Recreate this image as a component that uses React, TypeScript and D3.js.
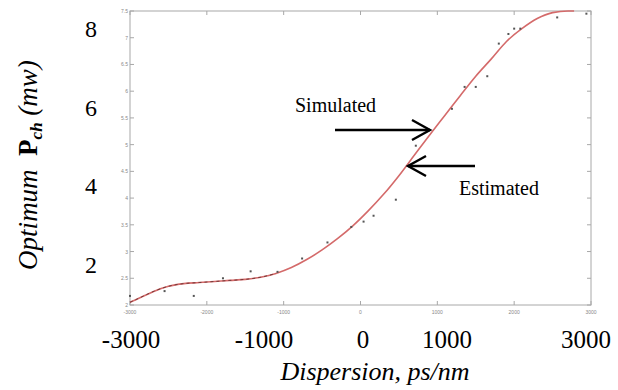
import * as d3 from "d3";
import React, { useRef, useEffect } from "react";

// smooth fitted curve (dispersion ps/nm, optimum power mW)
const curveX = [-3000, -2850, -2700, -2500, -2300, -2100, -1900, -1700, -1500, -1300, -1100, -900, -700, -500, -300, -100, 100, 300, 500, 700, 900, 1100, 1300, 1500, 1700, 1900, 2100, 2300, 2500, 2700, 2780];
const curveY = [2.05, 2.15, 2.25, 2.35, 2.4, 2.42, 2.44, 2.46, 2.48, 2.52, 2.59, 2.7, 2.85, 3.03, 3.24, 3.48, 3.76, 4.07, 4.42, 4.8, 5.18, 5.55, 5.92, 6.28, 6.6, 6.93, 7.17, 7.36, 7.47, 7.5, 7.5];

// scattered points
const pointX = [-3000, -2550, -2170, -1790, -1430, -1080, -760, -430, -120, 40, 170, 460, 720, 1190, 1355, 1500, 1650, 1800, 1925, 2000, 2080, 2560, 2940];
const pointY = [2.17, 2.26, 2.17, 2.5, 2.63, 2.62, 2.87, 3.17, 3.46, 3.56, 3.67, 3.97, 4.98, 5.67, 6.08, 6.08, 6.28, 6.89, 7.07, 7.17, 7.17, 7.38, 7.45];

// small ticks of the inner (pasted) plot
const innerXTicks = [-3000, -2000, -1000, 0, 1000, 2000, 3000];
const innerYTicks = [2, 2.5, 3, 3.5, 4, 4.5, 5, 5.5, 6, 6.5, 7, 7.5];

// large overlay tick labels
const outerXTicks = [-3000, -1000, 0, 1000, 3000];
const outerYTicks = [2, 4, 6, 8];

const W = 618;
const H = 390;

function Chart() {
  const ref = useRef(null);

  useEffect(() => {
    const svg = d3.select(ref.current);
    svg.selectAll("*").remove();

    const x = d3.scaleLinear().domain([-3000, 3000]).range([130, 591]);
    const y = d3.scaleLinear().domain([2, 7.5]).range([305, 11]);

    const axisColor = "#a8a8a8";
    const g = svg.append("g");

    // box
    g.append("rect")
      .attr("x", x(-3000))
      .attr("y", y(7.5))
      .attr("width", x(3000) - x(-3000))
      .attr("height", y(2) - y(7.5))
      .attr("fill", "#fff")
      .attr("stroke", axisColor)
      .attr("stroke-width", 1);

    // inner ticks
    innerXTicks.forEach((t) => {
      g.append("line").attr("x1", x(t)).attr("x2", x(t)).attr("y1", y(2)).attr("y2", y(2) - 4).attr("stroke", axisColor);
      g.append("line").attr("x1", x(t)).attr("x2", x(t)).attr("y1", y(7.5)).attr("y2", y(7.5) + 4).attr("stroke", axisColor);
      g.append("text")
        .attr("x", x(t))
        .attr("y", y(2) + 9)
        .attr("text-anchor", "middle")
        .attr("font-family", "Arial, sans-serif")
        .attr("font-size", 5)
        .attr("fill", "#888")
        .text(t);
    });
    innerYTicks.forEach((t) => {
      g.append("line").attr("x1", x(-3000)).attr("x2", x(-3000) + 4).attr("y1", y(t)).attr("y2", y(t)).attr("stroke", axisColor);
      g.append("line").attr("x1", x(3000)).attr("x2", x(3000) - 4).attr("y1", y(t)).attr("y2", y(t)).attr("stroke", axisColor);
      g.append("text")
        .attr("x", x(-3000) - 2)
        .attr("y", y(t) + 2)
        .attr("text-anchor", "end")
        .attr("font-family", "Arial, sans-serif")
        .attr("font-size", 5)
        .attr("fill", "#888")
        .text(t);
    });

    // curve
    const curve = curveX.map((d, i) => [d, curveY[i]]);
    const line = d3
      .line()
      .x((d) => x(d[0]))
      .y((d) => y(d[1]))
      .curve(d3.curveMonotoneX);

    g.append("path")
      .datum(curve)
      .attr("d", line)
      .attr("fill", "none")
      .attr("stroke", "#d46a6a")
      .attr("stroke-width", 1.6);

    g.append("path")
      .datum(curve.filter((d) => d[0] <= -1100))
      .attr("d", line)
      .attr("fill", "none")
      .attr("stroke", "#5a2a2a")
      .attr("stroke-width", 0.8)
      .attr("stroke-dasharray", "3,3");

    // points
    g.selectAll(".pt")
      .data(pointX.map((d, i) => [d, pointY[i]]))
      .join("rect")
      .classed("pt", true)
      .attr("x", (d) => x(d[0]) - 1)
      .attr("y", (d) => y(d[1]) - 1)
      .attr("width", 2)
      .attr("height", 2)
      .attr("fill", "#555");

    // arrows + annotations
    const serif = "'Liberation Serif', 'Times New Roman', serif";
    const arrows = [
      { x1: 335, x2: 430, y: 130 },
      { x1: 475, x2: 408, y: 166 },
    ];
    arrows.forEach((a) => {
      const dir = a.x2 > a.x1 ? 1 : -1;
      g.append("line")
        .attr("x1", a.x1)
        .attr("x2", a.x2)
        .attr("y1", a.y)
        .attr("y2", a.y)
        .attr("stroke", "#000")
        .attr("stroke-width", 2.4);
      g.append("path")
        .attr("d", `M${a.x2 - dir * 18},${a.y - 10}L${a.x2},${a.y}L${a.x2 - dir * 18},${a.y + 10}`)
        .attr("fill", "none")
        .attr("stroke", "#000")
        .attr("stroke-width", 2.4);
    });
    g.append("text").attr("x", 295).attr("y", 112).attr("font-family", serif).attr("font-size", 20).text("Simulated");
    g.append("text").attr("x", 459).attr("y", 195).attr("font-family", serif).attr("font-size", 20).text("Estimated");

    // overlay big labels
    const ox = d3.scaleLinear().domain([-3000, -1000, 0, 1000, 3000]).range([131, 264, 363, 447, 586]);
    const oy = d3.scaleLinear().domain([2, 8]).range([273, 37]);

    svg
      .selectAll(".ox")
      .data(outerXTicks)
      .join("text")
      .classed("ox", true)
      .attr("x", (d) => ox(d))
      .attr("y", 348)
      .attr("text-anchor", "middle")
      .attr("font-family", serif)
      .attr("font-size", 25)
      .text((d) => d);

    svg
      .selectAll(".oy")
      .data(outerYTicks)
      .join("text")
      .classed("oy", true)
      .attr("x", 97)
      .attr("y", (d) => oy(d))
      .attr("text-anchor", "end")
      .attr("font-family", serif)
      .attr("font-size", 24)
      .text((d) => d);

    svg
      .append("text")
      .attr("x", 375)
      .attr("y", 380)
      .attr("text-anchor", "middle")
      .attr("font-family", serif)
      .attr("font-size", 26)
      .attr("font-style", "italic")
      .text("Dispersion, ps/nm");

    const yt = svg
      .append("text")
      .attr("transform", "translate(37,165) rotate(-90)")
      .attr("text-anchor", "middle")
      .attr("font-family", serif)
      .attr("font-size", 27);
    yt.append("tspan").attr("font-style", "italic").text("Optimum\u00a0\u00a0");
    yt.append("tspan").attr("font-weight", "bold").text("P");
    yt.append("tspan").attr("font-weight", "bold").attr("font-style", "italic").attr("font-size", 17).attr("dy", 5).text("ch");
    yt.append("tspan").attr("font-style", "italic").attr("dy", -5).text(" (mw)");
  }, []);

  return <svg ref={ref} width={W} height={H} style={{ position: "absolute", left: 0, top: 0, background: "#fff" }}></svg>;
}

export default function App() {
  return <Chart />;
}
